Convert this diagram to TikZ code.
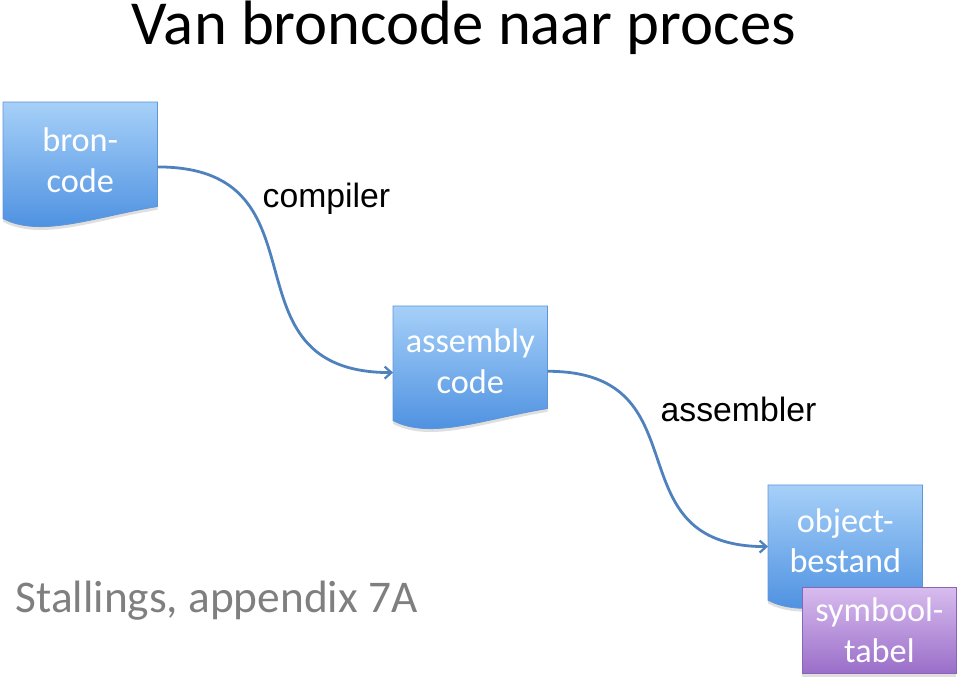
\documentclass[tikz,border=0pt]{standalone}
\usepackage{fontspec}
\setmainfont{Carlito}
\newfontfamily\arialfont{Liberation Sans}
\usetikzlibrary{arrows.meta,calc,shadows}
\definecolor{doctop}{HTML}{A6D0F8}
\definecolor{docbot}{HTML}{478CDF}
\definecolor{docline}{HTML}{5F95D6}
\definecolor{purtop}{HTML}{D8BCEE}
\definecolor{purbot}{HTML}{9A6EC9}
\definecolor{purline}{HTML}{8A64B8}
\definecolor{conncol}{HTML}{4F81BD}
\definecolor{graytext}{HTML}{7F7F7F}
\tikzset{
  docnode/.style={minimum width=115.5pt, inner sep=0pt, text=white, align=center,
    font=\fontsize{25.7}{30.5}\selectfont},
  conn/.style={draw=conncol, line width=2.1pt, -{Straight Barb[length=5pt,width=9pt,line width=1.7pt]}},
  proclabel/.style={font=\arialfont\fontsize{25.3}{28}\selectfont, text=black, anchor=base west},
  docshade/.style={top color=doctop, bottom color=docbot, draw=docline, line width=0.6pt,
    drop shadow={opacity=0.25, shadow xshift=0pt, shadow yshift=-2.5pt}},
}
\newcommand\docshape[1]{%
  \path[docshade] (#1.north west) -- (#1.north east) -- ($(#1.south east)+(0,-12)$)
    .. controls ($(#1.south east)+(-62,-2)$) and ($(#1.south west)+(38,20)$) .. (#1.south west) -- cycle;}
\begin{document}
\begin{tikzpicture}[x=0.75pt,y=-0.75pt]
\useasboundingbox (0,0) rectangle (960,680);
\node[font=\fontsize{47}{52}\selectfont, anchor=base] (title) at (464,45) {Van broncode naar proces};
% document boxes (shape drawn first, text nodes named)
\node[docnode, minimum height=87pt, anchor=north west] (bron) at (3,102) {};
\docshape{bron}
\node[docnode, anchor=center] (brontext) at (bron.center) {bron-\\code};
\node[docnode, minimum height=85.5pt, anchor=north west] (asm) at (393,306) {};
\docshape{asm}
\node[docnode, anchor=center] (asmtext) at ($(asm.center)+(0,-2)$) {assembly\\code};
\node[docnode, minimum height=86pt, anchor=north west] (obj) at (768,485) {};
\docshape{obj}
\node[docnode, anchor=center] (objtext) at ($(obj.center)+(0,-2)$) {object-\\bestand};
% symbol table
\node[minimum width=115.5pt, minimum height=64.5pt, inner sep=0pt, anchor=north west,
  top color=purtop, bottom color=purbot, draw=purline, line width=0.6pt,
  drop shadow={opacity=0.25, shadow xshift=0pt, shadow yshift=-2.5pt},
  text=white, align=center, font=\fontsize{25.7}{30.5}\selectfont] (sym) at (802,587) {symbool-\\tabel};
% connectors
\draw[conn] ([yshift=-5pt]bron.east) to[out=0,in=180,looseness=1.45] ([yshift=-7pt]asm.west);
\draw[conn] ([yshift=-6pt]asm.east) to[out=0,in=180,looseness=1.45] ([yshift=-3pt]obj.west);
% labels
\node[proclabel] (comp) at (258,208) {compiler};
\node[proclabel] (assem) at (656,422) {assembler};
\node[font=\fontsize{34}{40}\selectfont, text=graytext, anchor=base west] (ref) at (11,612) {Stallings, appendix 7A};
\end{tikzpicture}
\end{document}
